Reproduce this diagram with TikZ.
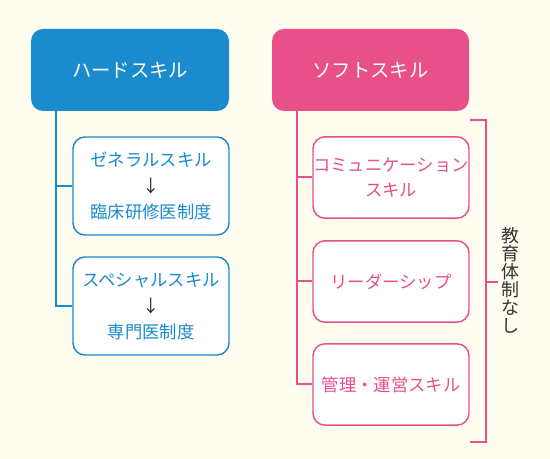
\documentclass[tikz,border=0pt]{standalone}
\usepackage{fontspec}
\newfontfamily\jp{Noto Sans CJK JP}
\usepackage{xcolor}
\definecolor{hardblue}{HTML}{1A8BCC}
\definecolor{softpink}{HTML}{E9508A}
\definecolor{bgcream}{HTML}{FEFDF0}
\begin{document}
\begin{tikzpicture}
		[x=0.75pt,y=-0.75pt]
			\tikzstyle{head}=[rounded corners=9pt, inner sep=0pt, text=white,
		minimum height=61.5pt, font=\jp\fontsize{14.5pt}{18pt}\selectfont]
			\tikzstyle{item}=[rounded corners=9pt, draw, line width=1.1pt, fill=white,
		inner sep=0pt, minimum width=117pt, align=center,
		font=\jp\fontsize{13pt}{19.5pt}\selectfont]
		\useasboundingbox[fill=bgcream] (0,0) rectangle (550,459);
		%-----hard
		 \node[head, fill=hardblue, minimum width=148.5pt]  (hard) at (130,70) {ハードスキル};
		 \node[item, draw=hardblue, text=hardblue, minimum height=73.5pt]  (general) at (151,186) {ゼネラルスキル\\{\color{black!85}↓}\\臨床研修医制度};
		 \node[item, draw=hardblue, text=hardblue, minimum height=73.5pt]  (special) at (151,306) {スペシャルスキル\\{\color{black!85}↓}\\専門医制度};
		%-----soft
		 \node[head, fill=softpink, minimum width=147.75pt]  (soft) at (370.5,70) {ソフトスキル};
		 \node[item, draw=softpink, text=softpink, minimum height=61pt, font=\jp\fontsize{13pt}{18.75pt}\selectfont]  (comm) at (391,177.5) {コミュニケーション\\スキル};
		 \node[item, draw=softpink, text=softpink, minimum height=61pt]  (lead) at (391,281.5) {リーダーシップ};
		 \node[item, draw=softpink, text=softpink, minimum height=61pt]  (manage) at (391,384.5) {管理・運営スキル};
		 \node[inner sep=0pt, text=black!80, align=center, font=\jp\fontsize{13.5pt}{13.5pt}\selectfont]  (none) at (510,280) {教\\育\\体\\制\\な\\し};

		 \coordinate (hardroot) at (56,111);
		 \coordinate (softroot) at (297,110);
		 \coordinate (bracetop) at (470,120);
		 \coordinate (bracebot) at (470,442);
		 \coordinate (bracetip) at (498,282);

		 \foreach \to in {general, special}
		 \draw[hardblue, line width=1.5pt] (hardroot) |- (\to.west);
		 \foreach \to in {comm, lead, manage}
		 \draw[softpink, line width=1.5pt] (softroot) |- (\to.west);

		 \draw[softpink, line width=1.1pt] (bracetop) -- ++(16,0) |- (bracebot);
		 \draw[softpink, line width=1.1pt] (bracetip) -- ++(-12,0);
		\end{tikzpicture}
\end{document}
